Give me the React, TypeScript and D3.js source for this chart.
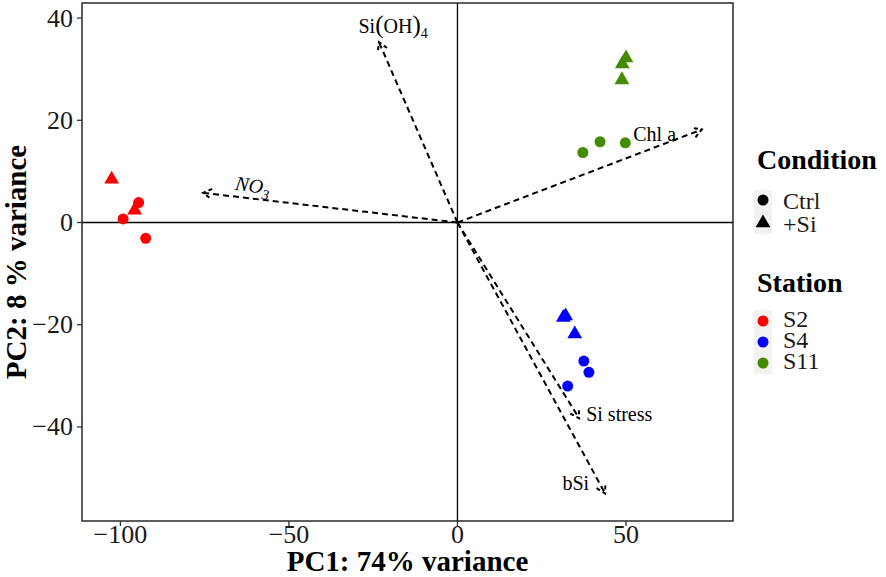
import React from "react";
import * as d3 from "d3";

// ---- Data ----
const pointStation = ["S2", "S2", "S2", "S2", "S2", "S4", "S4", "S4", "S4", "S4", "S4", "S11", "S11", "S11", "S11", "S11", "S11"];
const pointCondition = ["Ctrl", "Ctrl", "Ctrl", "+Si", "+Si", "Ctrl", "Ctrl", "Ctrl", "+Si", "+Si", "+Si", "Ctrl", "Ctrl", "Ctrl", "+Si", "+Si", "+Si"];
const pc1 = [-94.6, -99.2, -92.5, -102.6, -95.8, 37.5, 39.0, 32.7, 31.4, 32.1, 34.8, 37.2, 42.3, 49.8, 50.0, 48.9, 48.8];
const pc2 = [3.9, 0.7, -3.1, 8.45, 2.4, -27.1, -29.3, -32.0, -18.6, -18.3, -21.8, 13.7, 15.8, 15.6, 32.2, 31.0, 27.9];

const loadingNames = ["Si(OH)4", "NO3", "Chl a", "Si stress", "bSi"];
const loadingPC1 = [-23.3, -75.5, 72.5, 36.1, 43.8];
const loadingPC2 = [35.3, 5.8, 18.2, -38.3, -53.0];
const labelPC1 = [-19.1, -60.7, 58.5, 48.0, 35.1];
const labelPC2 = [38.5, 7.3, 17.4, -37.4, -51.0];

const xTicks = [-100, -50, 0, 50];
const yTicks = [-40, -20, 0, 20, 40];
const stations = ["S2", "S4", "S11"];
const stationColors = ["#ff0000", "#0000ff", "#458b00"];
const conditions = ["Ctrl", "+Si"];

const xTitle = "PC1: 74% variance";
const yTitle = "PC2: 8 % variance";

const FONT = "'Liberation Serif', 'Times New Roman', serif";

export default function App() {
  const left = 82, right = 733, top = 3, bottom = 521;
  const x = d3.scaleLinear().domain([-111.4, 81.75]).range([left, right]);
  const y = d3.scaleLinear().domain([-58.4, 42.95]).range([bottom, top]);
  const color = d3.scaleOrdinal<string, string>().domain(stations).range(stationColors);
  const tri = d3.symbol().type(d3.symbolTriangle).size(95)() as string;
  const fmt = (v: number) => (v < 0 ? "\u2212" + Math.abs(v) : String(v));

  const arrowHead = (x0: number, y0: number, x1: number, y1: number) => {
    const ang = Math.atan2(y1 - y0, x1 - x0);
    const L = 10, a = Math.PI / 6;
    const p1 = [x1 - L * Math.cos(ang - a), y1 - L * Math.sin(ang - a)];
    const p2 = [x1 - L * Math.cos(ang + a), y1 - L * Math.sin(ang + a)];
    return `M${p1[0]},${p1[1]}L${x1},${y1}L${p2[0]},${p2[1]}`;
  };

  const renderLabel = (name: string, i: number) => {
    const lx = x(labelPC1[i]);
    const ly = y(labelPC2[i]);
    const common = { fontFamily: FONT, fontSize: 20, fill: "#000", textAnchor: "middle" as const };
    if (name === "Si(OH)4") {
      return (
        <text key={name} x={lx} y={ly + 7} {...common}>
          Si<tspan fontSize={25}>(</tspan>OH<tspan fontSize={25}>)</tspan>
          <tspan fontSize={14} dy={5}>4</tspan>
        </text>
      );
    }
    if (name === "NO3") {
      return (
        <text key={name} x={lx} y={ly + 7} {...common} fontStyle="italic" transform={`rotate(9 ${lx} ${ly})`}>
          NO<tspan fontSize={14} dy={5}>3</tspan>
        </text>
      );
    }
    return (
      <text key={name} x={lx} y={ly + 7} {...common}>
        {name}
      </text>
    );
  };

  return (
    <svg width={886} height={577} style={{ position: "absolute", left: 0, top: 0, background: "#fff" }}>
      <rect x={0} y={0} width={886} height={577} fill="#fff" />
      {/* zero lines */}
      <line x1={x(0)} x2={x(0)} y1={top} y2={bottom} stroke="#000" strokeWidth={1.3} />
      <line x1={left} x2={right} y1={y(0)} y2={y(0)} stroke="#000" strokeWidth={1.3} />

      {/* loading arrows */}
      {loadingNames.map((n, i) => {
        const x0 = x(0), y0 = y(0), x1 = x(loadingPC1[i]), y1 = y(loadingPC2[i]);
        return (
          <g key={n} fill="none" stroke="#000" strokeWidth={2} strokeDasharray="6,4">
            <line x1={x0} y1={y0} x2={x1} y2={y1} />
            <path d={arrowHead(x0, y0, x1, y1)} strokeDasharray="4,3" />
          </g>
        );
      })}

      {/* points */}
      {pc1.map((v, i) => {
        const cx = x(v), cy = y(pc2[i]);
        const c = color(pointStation[i]);
        return pointCondition[i] === "Ctrl" ? (
          <circle key={i} cx={cx} cy={cy} r={5.5} fill={c} />
        ) : (
          <path key={i} d={tri} transform={`translate(${cx},${cy})`} fill={c} />
        );
      })}

      {/* labels */}
      {loadingNames.map((n, i) => renderLabel(n, i))}

      {/* panel border */}
      <rect x={left} y={top} width={right - left} height={bottom - top} fill="none" stroke="#1a1a1a" strokeWidth={1.4} />

      {/* x axis */}
      {xTicks.map((t) => (
        <g key={t}>
          <line x1={x(t)} x2={x(t)} y1={bottom} y2={bottom + 5} stroke="#333" strokeWidth={1.3} />
          <text x={x(t)} y={543} textAnchor="middle" fontFamily={FONT} fontSize={26} fill="#1a1a1a">
            {fmt(t)}
          </text>
        </g>
      ))}
      {/* y axis */}
      {yTicks.map((t) => (
        <g key={t}>
          <line x1={left - 5} x2={left} y1={y(t)} y2={y(t)} stroke="#333" strokeWidth={1.3} />
          <text x={73} y={y(t) + 8.5} textAnchor="end" fontFamily={FONT} fontSize={26} fill="#1a1a1a">
            {fmt(t)}
          </text>
        </g>
      ))}

      <text x={(left + right) / 2} y={571} textAnchor="middle" fontFamily={FONT} fontSize={29} fontWeight="bold" fill="#000">
        {xTitle}
      </text>
      <text
        x={0}
        y={0}
        transform={`translate(26,${(top + bottom) / 2}) rotate(-90)`}
        textAnchor="middle"
        fontFamily={FONT}
        fontSize={29}
        fontWeight="bold"
        fill="#000"
      >
        {yTitle}
      </text>

      {/* legend: Condition */}
      <text x={757} y={169} fontFamily={FONT} fontSize={28} fontWeight="bold" fill="#000">Condition</text>
      <rect x={754} y={190} width={18} height={44} fill="#f2f2f2" />
      {conditions.map((c, i) => {
        const cy = 200 + i * 23;
        return (
          <g key={c}>
            {c === "Ctrl" ? (
              <circle cx={763} cy={cy} r={5.5} fill="#000" />
            ) : (
              <path d={tri} transform={`translate(763,${cy})`} fill="#000" />
            )}
            <text x={783} y={cy + 8.5} fontFamily={FONT} fontSize={24} fill="#1a1a1a">{c}</text>
          </g>
        );
      })}

      {/* legend: Station */}
      <text x={757} y={292} fontFamily={FONT} fontSize={28} fontWeight="bold" fill="#000">Station</text>
      <rect x={754} y={310} width={18} height={64} fill="#f2f2f2" />
      {stations.map((s, i) => {
        const cy = 321 + i * 21;
        return (
          <g key={s}>
            <circle cx={763} cy={cy} r={5.5} fill={color(s)} />
            <text x={783} y={cy + 6} fontFamily={FONT} fontSize={24} fill="#1a1a1a">{s}</text>
          </g>
        );
      })}
    </svg>
  );
}
